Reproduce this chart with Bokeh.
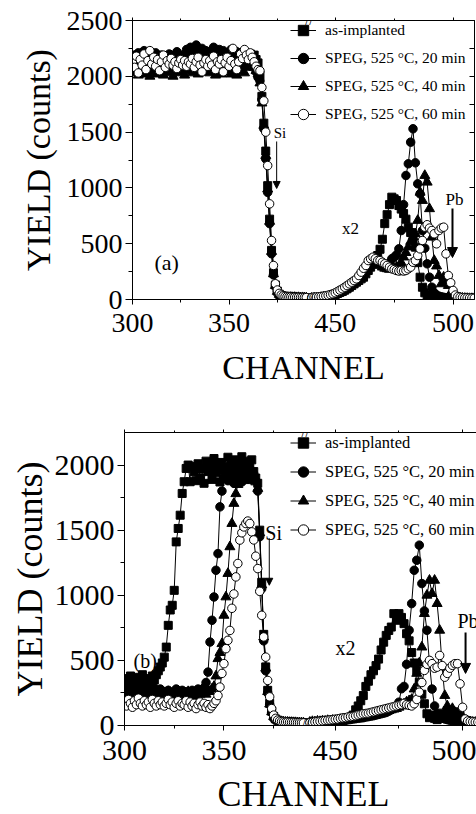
import numpy as np
from bokeh.plotting import figure
from bokeh.models import (FixedTicker, LinearAxis, Range1d, Legend, LegendItem,
                          Label, Arrow, NormalHead)
from bokeh.embed import file_html
from bokeh.resources import INLINE

FONT = "Liberation Serif"

# ---------------- data ----------------
CH_LEFT = list(range(300, 391))    # channels shown left of the axis break
CH_RIGHT = list(range(440, 510))   # channels shown right of the axis break

X_TICKS = [300, 350, 450, 500]
X_MINOR = [325, 375, 475]
Y_TICKS_A = [0, 500, 1000, 1500, 2000, 2500]
Y_MINOR_A = [250, 750, 1250, 1750, 2250]
Y_TICKS_B = [0, 500, 1000, 1500, 2000]
Y_MINOR_B = [250, 750, 1250, 1750]

SERIES = ["as-implanted", "SPEG, 525 \u00b0C, 20 min",
          "SPEG, 525 \u00b0C, 40 min", "SPEG, 525 \u00b0C, 60 min"]

# panel (a)
a_sq_left = [2100, 2140, 2080, 2120, 2160, 2090, 2110, 2150, 2070, 2130,
             2100, 2170, 2120, 2080, 2140, 2110, 2060, 2130, 2150, 2100,
             2090, 2140, 2120, 2170, 2100, 2080, 2150, 2130, 2110, 2160,
             2120, 2180, 2100, 2140, 2200, 2150, 2130, 2170, 2110, 2190,
             2140, 2160, 2120, 2180, 2150, 2200, 2130, 2170, 2140, 2160,
             2120, 2150, 2180, 2130, 2100, 2160, 2140, 2110, 2170, 2150,
             2180, 2200, 2160, 2190, 2150, 2120, 2010, 1820, 1580, 1330,
             1020, 720, 440, 240, 130, 75, 48, 34, 27, 23,
             22, 20, 21, 18, 19, 17, 18, 16, 17, 16,
             15]
a_ci_left = [2150, 2190, 2120, 2210, 2170, 2140, 2230, 2160, 2120, 2200,
             2180, 2140, 2210, 2160, 2130, 2190, 2150, 2120, 2170, 2200,
             2140, 2180, 2160, 2220, 2130, 2190, 2170, 2150, 2240, 2200,
             2260, 2190, 2230, 2280, 2210, 2170, 2250, 2200, 2230, 2180,
             2220, 2190, 2260, 2210, 2180, 2240, 2200, 2230, 2170, 2210,
             2190, 2240, 2200, 2180, 2220, 2160, 2210, 2190, 2230, 2170,
             2200, 2160, 2130, 2090, 2040, 1990, 1960, 1790, 1530, 1260,
             960, 680, 410, 220, 120, 70, 45, 32, 26, 22,
             21, 19, 20, 17, 18, 16, 17, 15, 16, 14,
             14]
a_tr_left = [2060, 2030, 2090, 2010, 2070, 2040, 2100, 2020, 2060, 2000,
             2080, 2050, 2020, 2090, 2040, 2070, 2010, 2060, 2030, 2080,
             2050, 2000, 2070, 2040, 2090, 2030, 2060, 2010, 2080, 2050,
             2070, 2030, 2100, 2060, 2020, 2080, 2040, 2110, 2050, 2070,
             2030, 2090, 2060, 2010, 2080, 2050, 2020, 2070, 2040, 2100,
             2060, 2020, 2080, 2040, 2010, 2070, 2050, 2090, 2030, 2080,
             2120, 2150, 2110, 2080, 2050, 2020, 1940, 1760, 1560, 1290,
             990, 700, 430, 230, 125, 72, 46, 33, 27, 22,
             20, 18, 19, 17, 18, 16, 17, 15, 16, 15,
             14]
a_op_left = [2120, 2080, 2180, 2030, 2150, 2100, 2200, 2060, 2140, 2230,
             2110, 2170, 2090, 2150, 2050, 2130, 2190, 2080, 2140, 2110,
             2160, 2100, 2130, 2070, 2120, 2150, 2100, 2140, 2090, 2130,
             2110, 2160, 2080, 2130, 2170, 2100, 2040, 2120, 2150, 2090,
             2140, 2100, 2180, 2060, 2130, 2110, 2150, 2040, 2120, 2170,
             2090, 2140, 2250, 2110, 2060, 2130, 2200, 2160, 2240, 2190,
             2150, 2210, 2170, 2130, 2090, 2060, 2050, 1900, 1780, 1500,
             1200, 857, 529, 305, 141, 85, 55, 40, 32, 27,
             24, 22, 23, 20, 21, 19, 20, 18, 19, 17,
             17]
a_sq_right = [12, 15, 14, 18, 16, 20, 24, 28, 34, 40,
              48, 56, 64, 72, 84, 96, 110, 125, 140, 155,
              170, 185, 200, 230, 260, 290, 320, 355, 394, 450,
              540, 680, 760, 850, 917, 902, 887, 842, 810, 770,
              720, 648, 600, 540, 469, 330, 200, 110, 60, 40,
              32, 26, 22, 20, 18, 17, 16, 15, 14, 13,
              12, 11, 10, 10, 9, 9, 8, 8, 8, 8]
a_ci_right = [10, 12, 14, 13, 16, 18, 20, 24, 28, 34,
              40, 48, 58, 70, 82, 96, 112, 128, 146, 165,
              185, 210, 240, 270, 300, 325, 345, 340, 330, 315,
              300, 290, 300, 330, 365, 379, 400, 454, 618, 850,
              1111, 1216, 1410, 1530, 1225, 1037, 947, 618, 460, 320,
              200, 110, 60, 40, 30, 24, 20, 17, 15, 13,
              12, 11, 10, 10, 9, 9, 8, 8, 8, 8]
a_tr_right = [11, 13, 12, 15, 17, 19, 22, 26, 30, 36,
              44, 52, 62, 74, 88, 102, 118, 134, 150, 170,
              190, 215, 245, 275, 300, 320, 335, 330, 320, 305,
              290, 280, 275, 270, 275, 280, 290, 300, 330, 380,
              420, 470, 520, 560, 589, 708, 961, 887, 1111, 1051,
              813, 558, 349, 300, 215, 140, 200, 160, 125, 60,
              30, 20, 16, 13, 11, 10, 9, 8, 8, 8]
a_op_right = [18, 20, 22, 24, 27, 30, 34, 38, 44, 51,
              60, 72, 84, 96, 110, 125, 140, 155, 170, 185,
              215, 245, 280, 305, 349, 365, 379, 365, 349, 349,
              334, 320, 305, 290, 275, 268, 260, 255, 260, 255,
              260, 275, 290, 334, 349, 394, 454, 529, 648, 670,
              640, 618, 589, 499, 618, 640, 648, 409, 215, 150,
              81, 40, 25, 20, 17, 15, 14, 13, 12, 11]

# panel (b)
b_sq_left = [330, 360, 310, 380, 340, 300, 370, 350, 320, 390,
             340, 310, 360, 330, 380, 350, 390, 420, 449, 480,
             525, 602, 769, 887, 923, 1038, 1410, 1513, 1615, 1782,
             1872, 1974, 2000, 1872, 1990, 1950, 1880, 2010, 1900, 1970,
             1860, 2030, 1950, 2000, 1890, 2050, 1940, 1990, 1870, 2020,
             1960, 1900, 2060, 1980, 1920, 2040, 1950, 1890, 2010, 2064,
             1970, 2030, 1960, 1990, 2040, 1950, 1900, 1860, 1500, 1100,
             700, 450, 270, 170, 110, 70, 50, 40, 34, 30,
             28, 26, 27, 24, 25, 23, 24, 22, 23, 21,
             21]
b_ci_left = [270, 240, 290, 250, 280, 230, 260, 300, 240, 270,
             250, 280, 230, 270, 260, 290, 240, 250, 280, 230,
             260, 240, 270, 250, 230, 260, 280, 240, 250, 270,
             240, 260, 230, 250, 270, 240, 260, 280, 250, 270,
             290, 330, 410, 641, 808, 987, 1192, 1320, 1679, 1800,
             1900, 1960, 1880, 2000, 1920, 1860, 1980, 1900, 1950, 1870,
             2010, 1920, 1980, 1890, 1950, 1930, 1880, 1800, 1450, 1050,
             650, 420, 250, 160, 100, 65, 48, 38, 32, 28,
             26, 25, 24, 23, 22, 22, 21, 20, 20, 19,
             19]
b_tr_left = [240, 260, 220, 250, 270, 230, 250, 260, 220, 240,
             260, 230, 250, 270, 240, 220, 260, 250, 230, 240,
             250, 230, 260, 240, 220, 250, 240, 260, 230, 250,
             220, 240, 260, 230, 250, 240, 220, 250, 240, 260,
             250, 240, 270, 260, 280, 300, 380, 513, 560, 628,
             846, 987, 1167, 1372, 1551, 1705, 1780, 1850, 1900, 1960,
             1880, 1940, 2000, 1910, 1960, 1900, 1870, 1820, 1480, 1080,
             680, 440, 260, 165, 105, 68, 50, 40, 33, 29,
             27, 25, 25, 23, 23, 22, 22, 21, 20, 20,
             19]
b_op_left = [180, 150, 200, 170, 140, 190, 160, 210, 170, 150,
             190, 160, 180, 140, 200, 170, 150, 190, 160, 180,
             150, 170, 200, 160, 180, 140, 170, 190, 150, 170,
             160, 190, 140, 180, 150, 170, 130, 160, 180, 150,
             170, 140, 160, 130, 150, 170, 190, 230, 295, 400,
             475, 590, 654, 730, 900, 1010, 1141, 1244, 1424, 1480,
             1525, 1551, 1570, 1551, 1487, 1425, 1300, 1205, 1030, 846,
             680, 525, 346, 220, 130, 80, 55, 42, 35, 30,
             28, 26, 27, 25, 24, 24, 23, 22, 22, 21,
             20]
b_sq_right = [20, 25, 22, 28, 25, 30, 28, 32, 30, 35,
              32, 38, 35, 40, 45, 52, 62, 80, 120, 150,
              190, 230, 300, 340, 390, 420, 460, 510, 580, 640,
              692, 730, 756, 859, 808, 859, 830, 782, 705, 650,
              560, 480, 423, 333, 240, 167, 90, 60, 80, 55,
              45, 95, 65, 55, 115, 80, 60, 50, 105, 70,
              50, 40, 35, 30, 28, 25, 24, 22, 20, 20]
b_ci_right = [18, 22, 20, 25, 23, 27, 26, 30, 28, 32,
              30, 35, 33, 38, 40, 44, 46, 50, 52, 55,
              58, 60, 65, 68, 72, 75, 80, 85, 90, 95,
              100, 110, 120, 135, 150, 179, 282, 300, 470, 731,
              936, 1192, 1269, 1385, 1090, 880, 731, 475, 280, 150,
              90, 70, 60, 50, 45, 40, 38, 35, 33, 30,
              28, 26, 25, 24, 22, 21, 20, 20, 19, 18]
b_tr_right = [25, 30, 28, 33, 30, 35, 33, 38, 36, 40,
              38, 42, 45, 48, 50, 55, 58, 60, 62, 66,
              70, 72, 75, 80, 85, 88, 92, 96, 100, 105,
              110, 115, 120, 125, 130, 140, 150, 165, 180, 190,
              200, 280, 400, 480, 602, 859, 1000, 1115, 1013, 1115,
              936, 731, 450, 230, 150, 90, 130, 100, 75, 55,
              40, 35, 30, 28, 25, 24, 22, 21, 20, 19]
b_op_right = [22, 25, 28, 30, 32, 35, 38, 40, 42, 45,
              48, 50, 55, 58, 60, 65, 68, 70, 75, 80,
              85, 90, 92, 95, 100, 105, 110, 115, 120, 125,
              130, 135, 140, 145, 150, 155, 160, 170, 160, 155,
              150, 167, 200, 256, 330, 423, 470, 500, 475, 440,
              448, 538, 460, 371, 400, 440, 462, 475, 475, 320,
              140, 50, 35, 30, 28, 26, 25, 24, 23, 22]

# ---------------- drawing ----------------
STYLES = [dict(marker="square", size=8, fill_color="black"),
          dict(marker="circle", size=8.5, fill_color="black"),
          dict(marker="triangle", size=10, fill_color="black"),
          dict(marker="circle", size=8.5, fill_color="white")]


def make_tf(d450, d500):
    k = (d500 - d450) / 50.0

    def tf(c):
        c = np.asarray(c, dtype=float)
        return np.where(c < 420, c, d450 + (c - 450.0) * k)
    return tf


def build(cfg):
    tf = make_tf(cfg["d450"], cfg["d500"])
    p = figure(width=476, height=cfg["height"],
               x_range=Range1d(300, cfg["x_end"]), y_range=Range1d(0, cfg["y_end"]),
               output_backend="svg", toolbar_location=None,
               x_axis_location=None, y_axis_location=None,
               min_border_left=cfg["mb_left"], min_border_right=cfg["mb_right"],
               min_border_top=cfg["mb_top"], min_border_bottom=cfg["mb_bottom"],
               background_fill_color="white", border_fill_color="white")
    p.grid.visible = False
    p.outline_line_color = cfg["outline"]

    xt = [float(v) for v in tf(X_TICKS)]
    xm = [float(v) for v in tf(X_MINOR)]
    overrides = {v: str(t) for v, t in zip(xt, X_TICKS)}

    def style_axis(ax, labels=True):
        ax.axis_line_color = "black"
        ax.major_tick_line_color = "black"
        ax.minor_tick_line_color = "black"
        ax.major_label_text_font = FONT
        ax.major_label_text_color = "black"
        ax.axis_label_text_font = FONT
        ax.axis_label_text_font_style = "normal"
        ax.axis_label_text_color = "black"
        if not labels:
            ax.major_label_text_font_size = "1px"
            ax.major_label_text_color = None
            ax.major_label_standoff = 0

    bx = LinearAxis(ticker=FixedTicker(ticks=xt, minor_ticks=xm),
                    major_label_overrides=overrides)
    style_axis(bx)
    bx.major_label_text_font_size = cfg["tick_font"]
    bx.major_tick_out, bx.major_tick_in = 5, 0
    bx.minor_tick_out, bx.minor_tick_in = 3, 0
    bx.major_label_standoff = cfg["xtick_standoff"]
    if cfg["xlab_as_axis"]:
        bx.axis_label = "CHANNEL"
        bx.axis_label_text_font_size = cfg["lab_font"]
        bx.axis_label_standoff = cfg["xlab_standoff"]
    p.add_layout(bx, "below")

    tx = LinearAxis(ticker=FixedTicker(ticks=xt, minor_ticks=xm))
    style_axis(tx, labels=False)
    tx.major_tick_out, tx.major_tick_in = 3, 0
    tx.minor_tick_out, tx.minor_tick_in = 2, 0
    p.add_layout(tx, "above")

    ly = LinearAxis(ticker=FixedTicker(ticks=cfg["yt"], minor_ticks=cfg["ym"]),
                    axis_label="YIELD (counts)")
    style_axis(ly)
    ly.major_label_text_font_size = cfg["tick_font"]
    ly.axis_label_text_font_size = cfg["lab_font"]
    ly.major_tick_out, ly.major_tick_in = 7, 0
    ly.minor_tick_out, ly.minor_tick_in = 4, 0
    ly.major_label_standoff = 3
    ly.axis_label_standoff = cfg["ylab_standoff"]
    p.add_layout(ly, "left")

    if cfg["right_axis"]:
        ry = LinearAxis(ticker=FixedTicker(ticks=cfg["yt"], minor_ticks=cfg["ym"]))
        style_axis(ry, labels=False)
        ry.major_tick_out, ry.major_tick_in = 0, 5
        ry.minor_tick_out, ry.minor_tick_in = 0, 5
        p.add_layout(ry, "right")

    items = []
    for name, sty, (lv, rv) in zip(SERIES, STYLES, cfg["data"]):
        first = None
        for chs, vals in ((CH_LEFT, lv), (CH_RIGHT, rv)):
            x = tf(chs)
            ln = p.line(x, vals, line_color="black", line_width=1)
            sc = p.scatter(x, vals, marker=sty["marker"], size=sty["size"],
                           fill_color=sty["fill_color"], line_color="black",
                           line_width=1)
            if first is None:
                first = [ln, sc]
        items.append(LegendItem(label=name, renderers=first))

    leg = Legend(items=items, location=cfg["leg_loc"], orientation="vertical",
                 glyph_width=26, glyph_height=cfg["row_h"], label_height=cfg["row_h"],
                 label_standoff=9, spacing=0, padding=0, margin=0,
                 background_fill_alpha=0, border_line_alpha=0,
                 label_text_font=FONT, label_text_font_size=cfg["leg_font"],
                 label_text_color="black")
    p.add_layout(leg)

    # axis-break marks
    for yy in (0, cfg["y_end"]):
        p.add_layout(Label(x=cfg["brk"], y=yy, text="//", text_font=FONT,
                           text_font_size="14px", text_align="center",
                           text_baseline="middle", text_color="black"))

    for (txt, x, y, fs, align) in cfg["labels"]:
        p.add_layout(Label(x=x, y=y, text=txt, text_font=FONT, text_font_size=fs,
                           text_align=align, text_baseline="middle",
                           text_color="black"))

    for (x, y0, y1, lw, hs) in cfg["arrows"]:
        p.add_layout(Arrow(end=NormalHead(size=hs, fill_color="black",
                                          line_color="black", line_width=1),
                           x_start=x, y_start=y0, x_end=x, y_end=y1,
                           line_width=lw, line_color="black"))
    return p


cfg_a = dict(d450=405, d500=466, x_end=477.1, y_end=2500,
             yt=Y_TICKS_A, ym=Y_MINOR_A, height=396,
             mb_left=132, mb_right=2, mb_top=20, mb_bottom=97,
             tick_font="28px", lab_font="34px",
             xtick_standoff=9, xlab_as_axis=True, xlab_standoff=14,
             ylab_standoff=7, outline="black", right_axis=True,
             data=[(a_sq_left, a_sq_right), (a_ci_left, a_ci_right),
                   (a_tr_left, a_tr_right), (a_op_left, a_op_right)],
             leg_loc=(158, 171), row_h=28, leg_font="15.5px", brk=391.5,
             labels=[("(a)", 317.7, 331, "22px", "center"),
                     ("x2", 412.9, 636, "17px", "center"),
                     ("Si", 373.1, 1496, "15px", "left"),
                     ("Pb", 462.1, 896, "17px", "left")],
             arrows=[(374.65, 1416, 995, 1, 7), (465.7, 815, 376, 2, 10)])

cfg_b = dict(d450=406, d500=470, x_end=477.0, y_end=2250,
             yt=Y_TICKS_B, ym=Y_MINOR_B, height=379,
             mb_left=124, mb_right=0, mb_top=36, mb_bottom=50,
             tick_font="30px", lab_font="36px",
             xtick_standoff=10, xlab_as_axis=False, xlab_standoff=0,
             ylab_standoff=2, outline=None, right_axis=False,
             data=[(b_sq_left, b_sq_right), (b_ci_left, b_ci_right),
                   (b_tr_left, b_tr_right), (b_op_left, b_op_right)],
             leg_loc=(166, 181), row_h=29, leg_font="16.5px", brk=391,
             labels=[("(b)", 310.4, 492, "20px", "center"),
                     ("x2", 411.1, 592, "20px", "center"),
                     ("Si", 370.8, 1477, "20px", "left"),
                     ("Pb", 467.4, 800, "20px", "left")],
             arrows=[(372.8, 1438, 1077, 1, 7), (471.5, 715, 400, 2, 10)])

pa = build(cfg_a)
pb = build(cfg_b)

# strip below panel (b) carrying its x-axis title
strip = figure(width=476, height=39, x_range=Range1d(0, 476), y_range=Range1d(0, 39),
               output_backend="svg", toolbar_location=None,
               x_axis_location=None, y_axis_location=None, min_border=0,
               background_fill_color="white", border_fill_color="white")
strip.grid.visible = False
strip.outline_line_color = None
strip.add_layout(Label(x=303, y=21, text="CHANNEL", text_font=FONT,
                       text_font_size="36px", text_align="center",
                       text_baseline="middle", text_color="black"))

# three independent roots stacked vertically (no frame alignment between them)
open("out.html", "w").write(file_html([pa, pb, strip], INLINE))
